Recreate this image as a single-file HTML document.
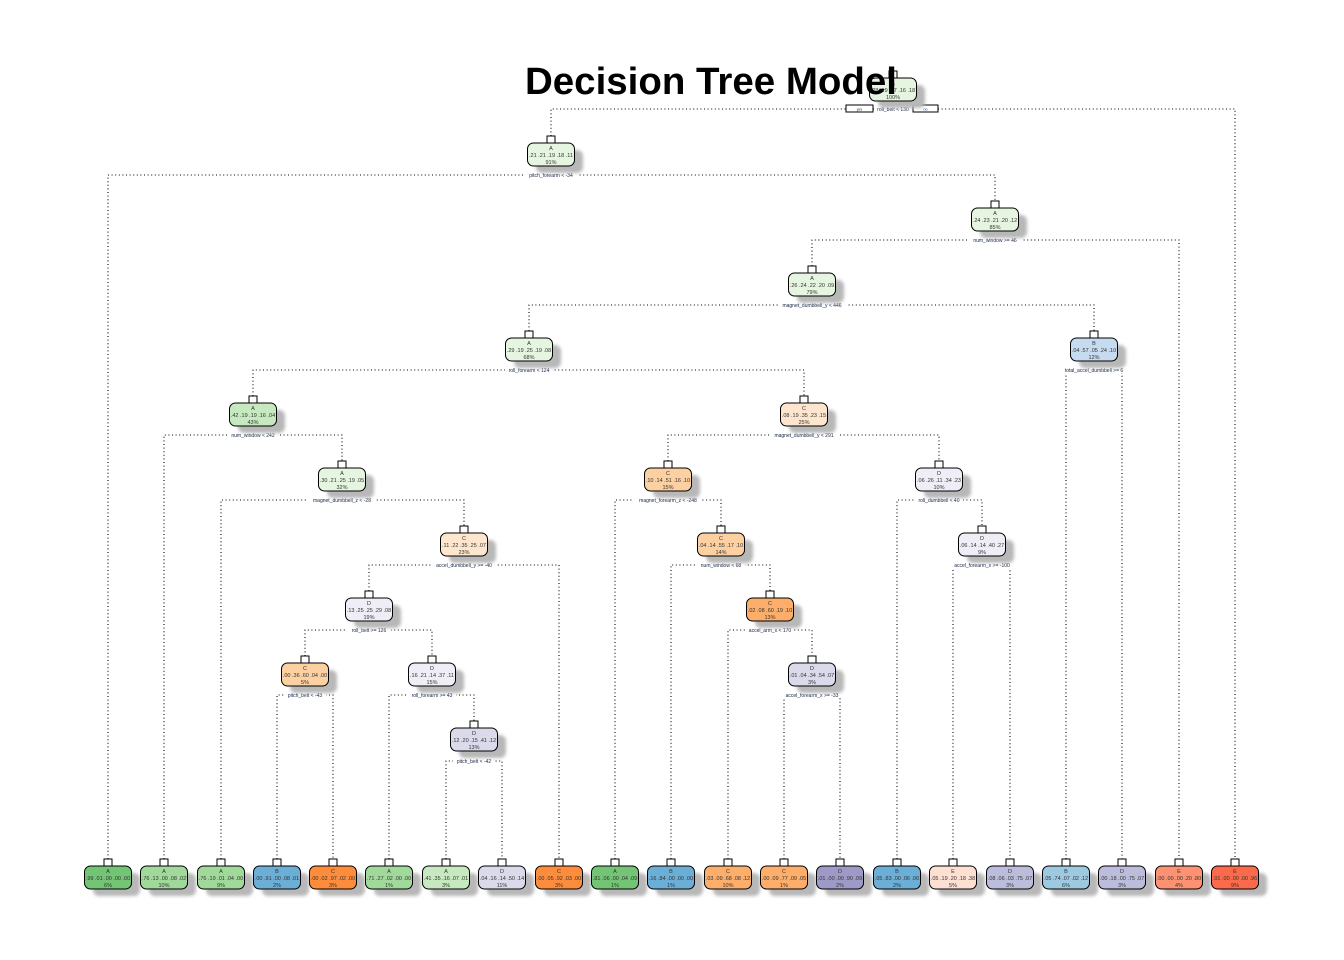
<!DOCTYPE html>
<html><head><meta charset="utf-8"><style>
html,body{margin:0;padding:0;background:#fff}
svg{display:block}
.n text{font-family:"Liberation Sans",sans-serif;font-size:5.5px;fill:#333;text-anchor:middle}
.s{font-family:"Liberation Sans",sans-serif;font-size:5px;fill:#102040;text-anchor:middle}
.e{fill:none;stroke:#000;stroke-width:1.1;stroke-dasharray:1 2.6}
</style></head><body>
<svg width="1344" height="960" viewBox="0 0 1344 960" xmlns="http://www.w3.org/2000/svg">
<defs><filter id="b" x="-20%" y="-20%" width="140%" height="140%"><feGaussianBlur stdDeviation="1.5"/></filter>
<g id="sh"><rect x="-15" y="7" width="47" height="23" rx="6" fill="#b8b8b8" filter="url(#b)"/></g>
<g id="nb"><rect x="-4" y="-7" width="8" height="7" fill="#fff" stroke="#000" stroke-width="1"/></g></defs>

<!-- edges -->
<path class="e" d="M551 136V109H1235V859"/>
<path class="e" d="M108 859V175H995V201"/>
<path class="e" d="M812 266V240H1179V859"/>
<path class="e" d="M529 331V305H1094V331"/>
<path class="e" d="M1066 859V370H1122V859"/>
<path class="e" d="M253 396V370H804V396"/>
<path class="e" d="M164 859V435H342V461"/>
<path class="e" d="M668 461V435H939V461"/>
<path class="e" d="M221 859V500H464V526"/>
<path class="e" d="M615 859V500H721V526"/>
<path class="e" d="M897 859V500H982V526"/>
<path class="e" d="M369 591V565H559V859"/>
<path class="e" d="M671 859V565H770V591"/>
<path class="e" d="M953 859V565H1010V859"/>
<path class="e" d="M305 656V630H432V656"/>
<path class="e" d="M728 859V630H812V656"/>
<path class="e" d="M277 859V695H333V859"/>
<path class="e" d="M389 859V695H474V721"/>
<path class="e" d="M784 859V695H840V859"/>
<path class="e" d="M446 859V761H502V859"/>

<!-- split labels -->
<g>
<rect x="846" y="105" width="27" height="7" fill="#fff" stroke="#000"/><rect x="913" y="105" width="25" height="7" fill="#fff" stroke="#000"/>
<text x="859.5" y="110.5" class="s" style="font-size:3.5px">yes</text><text x="925.5" y="110.5" class="s" style="font-size:3.5px">no</text>
<rect x="874" y="105" width="38" height="7" fill="#fff"/><text x="893" y="111" class="s">roll_belt &lt; 130</text>
<rect x="525" y="171" width="52" height="7" fill="#fff"/><text x="551" y="177" class="s">pitch_forearm &lt; -34</text>
<rect x="969" y="236" width="52" height="7" fill="#fff"/><text x="995" y="242" class="s">num_window &gt;= 46</text>
<rect x="778" y="301" width="68" height="7" fill="#fff"/><text x="812" y="307" class="s">magnet_dumbbell_y &lt; 446</text>
<rect x="1062" y="366" width="64" height="7" fill="#fff"/><text x="1094" y="372" class="s">total_accel_dumbbell &gt;= 6</text>
<rect x="505" y="366" width="48" height="7" fill="#fff"/><text x="529" y="372" class="s">roll_forearm &lt; 124</text>
<rect x="227" y="431" width="52" height="7" fill="#fff"/><text x="253" y="437" class="s">num_window &lt; 242</text>
<rect x="770" y="431" width="68" height="7" fill="#fff"/><text x="804" y="437" class="s">magnet_dumbbell_y &lt; 291</text>
<rect x="308" y="496" width="68" height="7" fill="#fff"/><text x="342" y="502" class="s">magnet_dumbbell_z &lt; -28</text>
<rect x="634" y="496" width="68" height="7" fill="#fff"/><text x="668" y="502" class="s">magnet_forearm_z &lt; -248</text>
<rect x="915" y="496" width="48" height="7" fill="#fff"/><text x="939" y="502" class="s">roll_dumbbell &lt; 40</text>
<rect x="432" y="561" width="64" height="7" fill="#fff"/><text x="464" y="567" class="s">accel_dumbbell_y &gt;= -40</text>
<rect x="697" y="561" width="48" height="7" fill="#fff"/><text x="721" y="567" class="s">num_window &lt; 68</text>
<rect x="948" y="561" width="68" height="7" fill="#fff"/><text x="982" y="567" class="s">accel_forearm_x &gt;= -100</text>
<rect x="347" y="626" width="44" height="7" fill="#fff"/><text x="369" y="632" class="s">roll_belt &gt;= 126</text>
<rect x="746" y="626" width="48" height="7" fill="#fff"/><text x="770" y="632" class="s">accel_arm_x &lt; 170</text>
<rect x="284" y="691" width="42" height="7" fill="#fff"/><text x="305" y="697" class="s">pitch_belt &lt; -43</text>
<rect x="408" y="691" width="48" height="7" fill="#fff"/><text x="432" y="697" class="s">roll_forearm &gt;= 43</text>
<rect x="781" y="691" width="62" height="7" fill="#fff"/><text x="812" y="697" class="s">accel_forearm_x &gt;= -33</text>
<rect x="453" y="757" width="42" height="7" fill="#fff"/><text x="474" y="763" class="s">pitch_belt &lt; -42</text>
</g>

<!-- nodes -->
<g class="n">
<g transform="translate(893,78)"><use href="#sh"/><use href="#nb"/><rect x="-23.5" y="0" width="47" height="23" rx="6" fill="#e5f5e0" stroke="#000"/><text y="7">A</text><text y="14">.28 .19 .17 .16 .18</text><text y="21">100%</text></g>
<g transform="translate(551,143)"><use href="#sh"/><use href="#nb"/><rect x="-23.5" y="0" width="47" height="23" rx="6" fill="#e5f5e0" stroke="#000"/><text y="7">A</text><text y="14">.21 .21 .19 .18 .11</text><text y="21">91%</text></g>
<g transform="translate(995,208)"><use href="#sh"/><use href="#nb"/><rect x="-23.5" y="0" width="47" height="23" rx="6" fill="#e5f5e0" stroke="#000"/><text y="7">A</text><text y="14">.24 .23 .21 .20 .12</text><text y="21">85%</text></g>
<g transform="translate(812,273)"><use href="#sh"/><use href="#nb"/><rect x="-23.5" y="0" width="47" height="23" rx="6" fill="#e5f5e0" stroke="#000"/><text y="7">A</text><text y="14">.26 .24 .22 .20 .09</text><text y="21">79%</text></g>
<g transform="translate(1094,338)"><use href="#sh"/><use href="#nb"/><rect x="-23.5" y="0" width="47" height="23" rx="6" fill="#c6dbef" stroke="#000"/><text y="7">B</text><text y="14">.04 .57 .05 .24 .10</text><text y="21">12%</text></g>
<g transform="translate(529,338)"><use href="#sh"/><use href="#nb"/><rect x="-23.5" y="0" width="47" height="23" rx="6" fill="#e5f5e0" stroke="#000"/><text y="7">A</text><text y="14">.29 .19 .25 .19 .08</text><text y="21">68%</text></g>
<g transform="translate(253,403)"><use href="#sh"/><use href="#nb"/><rect x="-23.5" y="0" width="47" height="23" rx="6" fill="#c7e9c0" stroke="#000"/><text y="7">A</text><text y="14">.42 .19 .19 .16 .04</text><text y="21">43%</text></g>
<g transform="translate(804,403)"><use href="#sh"/><use href="#nb"/><rect x="-23.5" y="0" width="47" height="23" rx="6" fill="#fee6ce" stroke="#000"/><text y="7">C</text><text y="14">.08 .19 .35 .23 .15</text><text y="21">25%</text></g>
<g transform="translate(342,468)"><use href="#sh"/><use href="#nb"/><rect x="-23.5" y="0" width="47" height="23" rx="6" fill="#e5f5e0" stroke="#000"/><text y="7">A</text><text y="14">.30 .21 .25 .19 .05</text><text y="21">32%</text></g>
<g transform="translate(668,468)"><use href="#sh"/><use href="#nb"/><rect x="-23.5" y="0" width="47" height="23" rx="6" fill="#fdd0a2" stroke="#000"/><text y="7">C</text><text y="14">.10 .14 .51 .16 .10</text><text y="21">15%</text></g>
<g transform="translate(939,468)"><use href="#sh"/><use href="#nb"/><rect x="-23.5" y="0" width="47" height="23" rx="6" fill="#efedf5" stroke="#000"/><text y="7">D</text><text y="14">.06 .26 .11 .34 .23</text><text y="21">10%</text></g>
<g transform="translate(464,533)"><use href="#sh"/><use href="#nb"/><rect x="-23.5" y="0" width="47" height="23" rx="6" fill="#fee6ce" stroke="#000"/><text y="7">C</text><text y="14">.11 .22 .35 .25 .07</text><text y="21">23%</text></g>
<g transform="translate(721,533)"><use href="#sh"/><use href="#nb"/><rect x="-23.5" y="0" width="47" height="23" rx="6" fill="#fdd0a2" stroke="#000"/><text y="7">C</text><text y="14">.04 .14 .55 .17 .10</text><text y="21">14%</text></g>
<g transform="translate(982,533)"><use href="#sh"/><use href="#nb"/><rect x="-23.5" y="0" width="47" height="23" rx="6" fill="#efedf5" stroke="#000"/><text y="7">D</text><text y="14">.06 .14 .14 .40 .27</text><text y="21">9%</text></g>
<g transform="translate(369,598)"><use href="#sh"/><use href="#nb"/><rect x="-23.5" y="0" width="47" height="23" rx="6" fill="#efedf5" stroke="#000"/><text y="7">D</text><text y="14">.13 .25 .25 .29 .08</text><text y="21">19%</text></g>
<g transform="translate(770,598)"><use href="#sh"/><use href="#nb"/><rect x="-23.5" y="0" width="47" height="23" rx="6" fill="#fdae6b" stroke="#000"/><text y="7">C</text><text y="14">.02 .08 .60 .19 .10</text><text y="21">13%</text></g>
<g transform="translate(305,663)"><use href="#sh"/><use href="#nb"/><rect x="-23.5" y="0" width="47" height="23" rx="6" fill="#fdd0a2" stroke="#000"/><text y="7">C</text><text y="14">.00 .36 .60 .04 .00</text><text y="21">5%</text></g>
<g transform="translate(432,663)"><use href="#sh"/><use href="#nb"/><rect x="-23.5" y="0" width="47" height="23" rx="6" fill="#efedf5" stroke="#000"/><text y="7">D</text><text y="14">.16 .21 .14 .37 .11</text><text y="21">15%</text></g>
<g transform="translate(812,663)"><use href="#sh"/><use href="#nb"/><rect x="-23.5" y="0" width="47" height="23" rx="6" fill="#dadaeb" stroke="#000"/><text y="7">D</text><text y="14">.01 .04 .34 .54 .07</text><text y="21">3%</text></g>
<g transform="translate(474,728)"><use href="#sh"/><use href="#nb"/><rect x="-23.5" y="0" width="47" height="23" rx="6" fill="#dadaeb" stroke="#000"/><text y="7">D</text><text y="14">.12 .20 .15 .41 .12</text><text y="21">13%</text></g>

<!-- leaves -->
<g transform="translate(108,866)"><use href="#sh"/><use href="#nb"/><rect x="-23.5" y="0" width="47" height="23" rx="6" fill="#74c476" stroke="#000"/><text y="7">A</text><text y="14">.99 .01 .00 .00 .00</text><text y="21">6%</text></g>
<g transform="translate(164,866)"><use href="#sh"/><use href="#nb"/><rect x="-23.5" y="0" width="47" height="23" rx="6" fill="#a1d99b" stroke="#000"/><text y="7">A</text><text y="14">.76 .13 .00 .08 .02</text><text y="21">10%</text></g>
<g transform="translate(221,866)"><use href="#sh"/><use href="#nb"/><rect x="-23.5" y="0" width="47" height="23" rx="6" fill="#a1d99b" stroke="#000"/><text y="7">A</text><text y="14">.76 .19 .01 .04 .00</text><text y="21">9%</text></g>
<g transform="translate(277,866)"><use href="#sh"/><use href="#nb"/><rect x="-23.5" y="0" width="47" height="23" rx="6" fill="#6baed6" stroke="#000"/><text y="7">B</text><text y="14">.00 .91 .00 .08 .01</text><text y="21">2%</text></g>
<g transform="translate(333,866)"><use href="#sh"/><use href="#nb"/><rect x="-23.5" y="0" width="47" height="23" rx="6" fill="#fd8d3c" stroke="#000"/><text y="7">C</text><text y="14">.00 .02 .97 .02 .00</text><text y="21">3%</text></g>
<g transform="translate(389,866)"><use href="#sh"/><use href="#nb"/><rect x="-23.5" y="0" width="47" height="23" rx="6" fill="#a1d99b" stroke="#000"/><text y="7">A</text><text y="14">.71 .27 .02 .00 .00</text><text y="21">1%</text></g>
<g transform="translate(446,866)"><use href="#sh"/><use href="#nb"/><rect x="-23.5" y="0" width="47" height="23" rx="6" fill="#c7e9c0" stroke="#000"/><text y="7">A</text><text y="14">.41 .35 .16 .07 .01</text><text y="21">3%</text></g>
<g transform="translate(502,866)"><use href="#sh"/><use href="#nb"/><rect x="-23.5" y="0" width="47" height="23" rx="6" fill="#dadaeb" stroke="#000"/><text y="7">D</text><text y="14">.04 .16 .14 .50 .14</text><text y="21">11%</text></g>
<g transform="translate(559,866)"><use href="#sh"/><use href="#nb"/><rect x="-23.5" y="0" width="47" height="23" rx="6" fill="#fd8d3c" stroke="#000"/><text y="7">C</text><text y="14">.00 .05 .92 .03 .00</text><text y="21">3%</text></g>
<g transform="translate(615,866)"><use href="#sh"/><use href="#nb"/><rect x="-23.5" y="0" width="47" height="23" rx="6" fill="#74c476" stroke="#000"/><text y="7">A</text><text y="14">.81 .06 .00 .04 .09</text><text y="21">1%</text></g>
<g transform="translate(671,866)"><use href="#sh"/><use href="#nb"/><rect x="-23.5" y="0" width="47" height="23" rx="6" fill="#6baed6" stroke="#000"/><text y="7">B</text><text y="14">.16 .84 .00 .00 .00</text><text y="21">1%</text></g>
<g transform="translate(728,866)"><use href="#sh"/><use href="#nb"/><rect x="-23.5" y="0" width="47" height="23" rx="6" fill="#fdae6b" stroke="#000"/><text y="7">C</text><text y="14">.03 .09 .68 .08 .12</text><text y="21">10%</text></g>
<g transform="translate(784,866)"><use href="#sh"/><use href="#nb"/><rect x="-23.5" y="0" width="47" height="23" rx="6" fill="#fdae6b" stroke="#000"/><text y="7">C</text><text y="14">.00 .09 .77 .09 .05</text><text y="21">1%</text></g>
<g transform="translate(840,866)"><use href="#sh"/><use href="#nb"/><rect x="-23.5" y="0" width="47" height="23" rx="6" fill="#9e9ac8" stroke="#000"/><text y="7">D</text><text y="14">.01 .00 .00 .90 .09</text><text y="21">2%</text></g>
<g transform="translate(897,866)"><use href="#sh"/><use href="#nb"/><rect x="-23.5" y="0" width="47" height="23" rx="6" fill="#6baed6" stroke="#000"/><text y="7">B</text><text y="14">.05 .83 .00 .06 .06</text><text y="21">2%</text></g>
<g transform="translate(953,866)"><use href="#sh"/><use href="#nb"/><rect x="-23.5" y="0" width="47" height="23" rx="6" fill="#fee0d2" stroke="#000"/><text y="7">E</text><text y="14">.05 .19 .20 .18 .38</text><text y="21">5%</text></g>
<g transform="translate(1010,866)"><use href="#sh"/><use href="#nb"/><rect x="-23.5" y="0" width="47" height="23" rx="6" fill="#bcbddc" stroke="#000"/><text y="7">D</text><text y="14">.08 .06 .03 .75 .07</text><text y="21">3%</text></g>
<g transform="translate(1066,866)"><use href="#sh"/><use href="#nb"/><rect x="-23.5" y="0" width="47" height="23" rx="6" fill="#9ecae1" stroke="#000"/><text y="7">B</text><text y="14">.05 .74 .07 .02 .12</text><text y="21">6%</text></g>
<g transform="translate(1122,866)"><use href="#sh"/><use href="#nb"/><rect x="-23.5" y="0" width="47" height="23" rx="6" fill="#bcbddc" stroke="#000"/><text y="7">D</text><text y="14">.00 .18 .00 .75 .07</text><text y="21">3%</text></g>
<g transform="translate(1179,866)"><use href="#sh"/><use href="#nb"/><rect x="-23.5" y="0" width="47" height="23" rx="6" fill="#fc9272" stroke="#000"/><text y="7">E</text><text y="14">.00 .00 .00 .20 .80</text><text y="21">4%</text></g>
<g transform="translate(1235,866)"><use href="#sh"/><use href="#nb"/><rect x="-23.5" y="0" width="47" height="23" rx="6" fill="#fb6a4a" stroke="#000"/><text y="7">E</text><text y="14">.01 .00 .00 .00 .96</text><text y="21">9%</text></g>
</g>

<text x="525" y="94" font-family="Liberation Sans, sans-serif" font-weight="bold" font-size="38" textLength="372" lengthAdjust="spacingAndGlyphs" fill="#000">Decision Tree Model</text>
</svg>
</body></html>
